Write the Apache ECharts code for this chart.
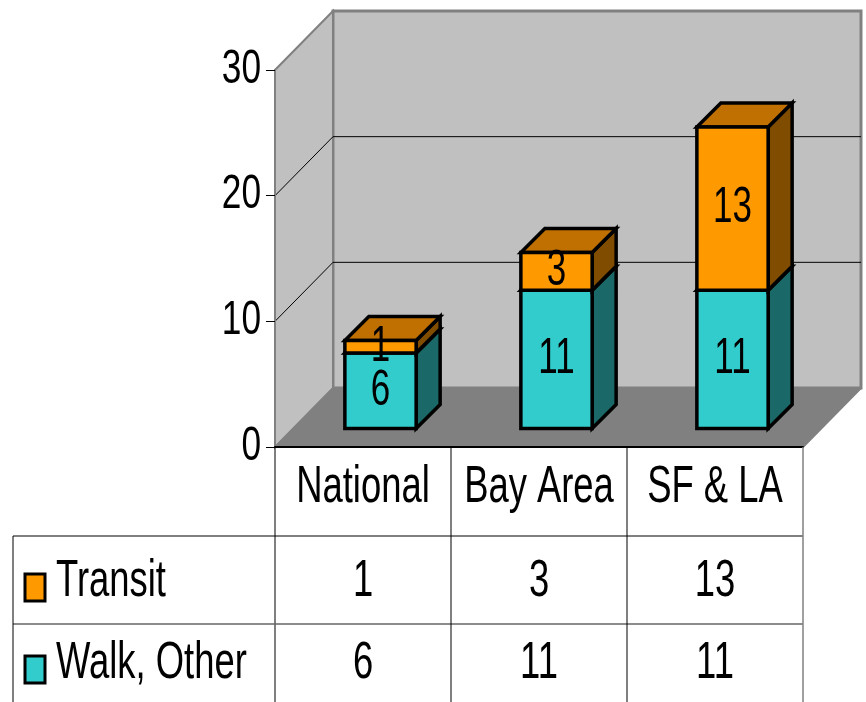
<!DOCTYPE html>
<html>
<head>
<meta charset="utf-8">
<script src="https://cdn.jsdelivr.net/npm/echarts@6/dist/echarts.min.js"></script>
<style>
  html, body { margin: 0; padding: 0; background: #fff; }
  #chart { width: 866px; height: 702px; }
</style>
</head>
<body>
<div id="chart"></div>
<script>
// data
var categories = ['National', 'Bay Area', 'SF & LA'];
var seriesNames = ['Transit', 'Walk, Other'];
var transit = [1, 3, 13];
var walkOther = [6, 11, 11];
var yTicks = [0, 10, 20, 30];

// look
var FONT = "'Liberation Sans', Arial, sans-serif";
var TXT_SIZE = 52, TXT_SX = 0.70;
var WALL = '#c0c0c0', FLOOR = '#808080', EDGE = '#808080';
var DEPTH = [58, -59];          // back wall offset
var BAR_FRONT = [17.5, -18.5];  // bar front face offset
var BAR_DEPTH = [24, -24];      // bar thickness
var BAR_RATIO = 0.405;
var colors = {
    'Transit': { front: '#ff9900', top: '#c07000', side: '#7f4c00' },
    'Walk, Other': { front: '#33cccc', top: '#269999', side: '#1b6868' }
};

var yMin = yTicks[0], yMax = yTicks[yTicks.length - 1], yStep = yTicks[1] - yTicks[0];

var chart = echarts.init(document.getElementById('chart'), null, { renderer: 'canvas' });

function txt(x, y, s, align, size, sx) {
    return {
        type: 'text', x: x, y: y, scaleX: sx || TXT_SX,
        style: { x: 0, y: 0, text: String(s), fontFamily: FONT, fontSize: size || TXT_SIZE,
                 fill: '#000', align: align || 'center', verticalAlign: 'middle' }
    };
}
function poly(pts, fill, stroke, lw) {
    return { type: 'polygon', shape: { points: pts },
             style: { fill: fill, stroke: stroke || null, lineWidth: lw || 0, lineJoin: 'miter' } };
}
function line(x1, y1, x2, y2, color, lw) {
    return { type: 'line', shape: { x1: x1, y1: y1, x2: x2, y2: y2 },
             style: { stroke: color, lineWidth: lw || 1 } };
}

// walls + floor + y labels
function renderWalls(params, api) {
    var cs = params.coordSys;
    var x0 = cs.x, x1 = cs.x + cs.width;
    var y0 = api.coord([0, yMin])[1], yt = api.coord([0, yMax])[1];
    var dx = DEPTH[0], dy = DEPTH[1];
    var kids = [];
    kids.push(poly([[x0, y0], [x1, y0], [x1 + dx, y0 + dy], [x0 + dx, y0 + dy]], FLOOR));
    kids.push(poly([[x0 + dx, yt + dy], [x1 + dx, yt + dy], [x1 + dx, y0 + dy], [x0 + dx, y0 + dy]], WALL, EDGE, 3));
    kids.push(poly([[x0, y0], [x0, yt], [x0 + dx, yt + dy], [x0 + dx, y0 + dy]], WALL, EDGE, 2));
    yTicks.forEach(function (v) {
        var y = api.coord([0, v])[1];
        if (v > yMin && v < yMax) {
            kids.push(line(x0, y, x0 + dx, y + dy, '#000', 1));
            kids.push(line(x0 + dx, y + dy, x1 + dx, y + dy, '#000', 1));
        }
        kids.push(txt(x0 - 14, y - 1, v, 'right', 49, 0.72));
    });
    kids.push(line(x1, y0, x1 + dx, y0 + dy, EDGE, 2));
    return { type: 'group', children: kids };
}

// 3d stacked bar piece
function renderBar(params, api) {
    var c = colors[params.seriesName];
    var i = api.value(0), base = api.value(1), v = api.value(2);
    var p0 = api.coord([i, base]), p1 = api.coord([i, base + v]);
    var w = api.size([1, 0])[0] * BAR_RATIO;
    var xl = p0[0] - w / 2 + BAR_FRONT[0], xr = xl + w;
    var yb = p0[1] + BAR_FRONT[1], yt = p1[1] + BAR_FRONT[1];
    var dx = BAR_DEPTH[0], dy = BAR_DEPTH[1];
    return {
        type: 'group',
        children: [
            poly([[xr, yb], [xr + dx, yb + dy], [xr + dx, yt + dy], [xr, yt]], c.side, '#000', 3.5),
            poly([[xl, yt], [xr, yt], [xr + dx, yt + dy], [xl + dx, yt + dy]], c.top, '#000', 3.5),
            poly([[xl, yb], [xr, yb], [xr, yt], [xl, yt]], c.front, '#000', 3.5),
            txt((xl + xr) / 2, (yb + yt) / 2, v, 'center', 50)
        ]
    };
}

// data table under the plot
function renderTable(params, api) {
    var i = api.value(0);
    var cs = params.coordSys;
    var cx = api.coord([i, 0])[0];
    var bw = api.size([1, 0])[0];
    var y0 = api.coord([i, yMin])[1];
    var r1 = y0 + 89, r2 = y0 + 177, r3 = 702;
    var rowMid = [(r1 + r2) / 2 + 2, (r2 + r3) / 2 + 1];
    var kids = [];
    kids.push(line(cx - bw / 2, y0, cx - bw / 2, r3, '#000', 1));
    kids.push(txt(cx, (y0 + r1) / 2 - 4, categories[i]));
    kids.push(txt(cx, rowMid[0], transit[i]));
    kids.push(txt(cx, rowMid[1], walkOther[i]));
    if (i === 0) {
        kids.push(line(13, r1, cs.x + cs.width, r1, '#000', 1));
        kids.push(line(13, r2, cs.x + cs.width, r2, '#666', 1.5));
        kids.push(line(13, r1, 13, r3, '#000', 1));
        var rows = [seriesNames[0], seriesNames[1]];
        for (var k = 0; k < rows.length; k++) {
            kids.push({ type: 'rect', shape: { x: 25, y: rowMid[k] - 8, width: 20, height: 27 },
                        style: { fill: colors[rows[k]].front, stroke: '#000', lineWidth: 3 } });
            kids.push(txt(56, rowMid[k], rows[k], 'left'));
        }
    }
    if (i === categories.length - 1) {
        kids.push(line(cx + bw / 2, y0, cx + bw / 2, r3, EDGE, 1.5));
    }
    return { type: 'group', children: kids };
}

var walkData = categories.map(function (c, i) { return [i, 0, walkOther[i]]; });
var transitData = categories.map(function (c, i) { return [i, walkOther[i], transit[i]]; });

var option = {
    animation: false,
    backgroundColor: '#fff',
    grid: { left: 275, right: 63, top: 70, bottom: 255 },
    xAxis: {
        type: 'category',
        data: categories,
        axisLine: { lineStyle: { color: '#000', width: 2 } },
        axisTick: { show: false },
        axisLabel: { show: false }
    },
    yAxis: {
        type: 'value',
        min: yMin, max: yMax, interval: yStep,
        axisLine: { show: true, lineStyle: { color: EDGE, width: 2 } },
        axisTick: { show: true, length: 9, lineStyle: { color: '#000', width: 1 } },
        axisLabel: { show: false },
        splitLine: { show: false }
    },
    series: [
        { type: 'custom', name: 'walls', z: -1, clip: false, silent: true,
          data: [[0, 0]], encode: { x: 0, y: 1 }, renderItem: renderWalls },
        { type: 'custom', name: seriesNames[1], z: 2, clip: false,
          data: walkData, encode: { x: 0, y: 2 }, renderItem: renderBar },
        { type: 'custom', name: seriesNames[0], z: 3, clip: false,
          data: transitData, encode: { x: 0, y: 2 }, renderItem: renderBar },
        { type: 'custom', name: 'table', z: 4, clip: false, silent: true,
          data: categories.map(function (c, i) { return [i, 0]; }), encode: { x: 0, y: 1 },
          renderItem: renderTable }
    ]
};

chart.setOption(option);
</script>
</body>
</html>
